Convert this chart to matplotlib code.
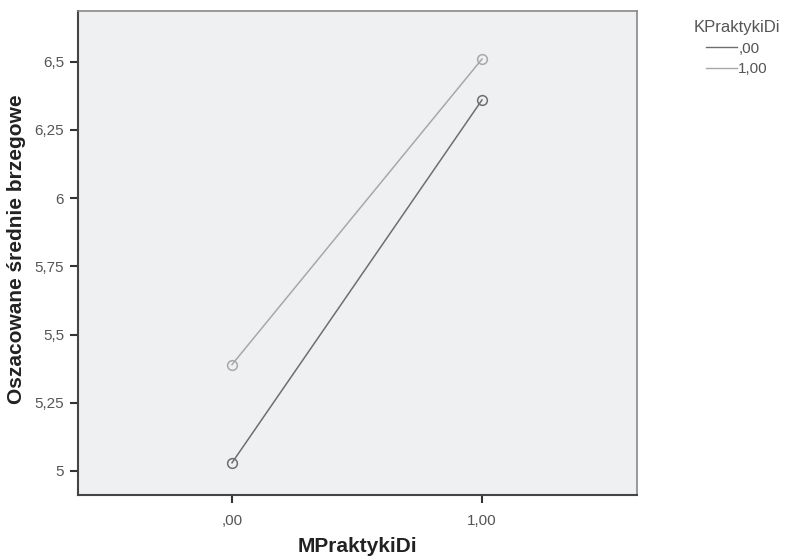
import matplotlib
matplotlib.use("Agg")
import matplotlib.pyplot as plt
from matplotlib.lines import Line2D

plt.rcParams['font.family'] = ['Liberation Sans', 'DejaVu Sans']

# dane
kategorie = [0.0, 1.0]
etykiety_x = [",00", "1,00"]
seria_00 = [5.03, 6.36]
seria_100 = [5.39, 6.51]
nazwy_serii = [",00", "1,00"]
ticki_y = [5, 5.25, 5.5, 5.75, 6, 6.25, 6.5]
etykiety_y = ["5", "5,25", "5,5", "5,75", "6", "6,25", "6,5"]

kolory = ["#6e6e6e", "#a8a8a8"]

fig = plt.figure(figsize=(7.89, 5.59), dpi=100)
ax = fig.add_axes([78 / 789, 1 - 495 / 559, (637 - 78) / 789, (495 - 11) / 559])
ax.set_facecolor("#eff0f2")

for dane, kol in zip([seria_00, seria_100], kolory):
    ax.plot(kategorie, dane, color=kol, lw=1.1, marker="o", markersize=7,
            markerfacecolor="none", markeredgecolor=kol, markeredgewidth=1.1)

ax.set_xlim(-0.616, 1.62)
ax.set_ylim(4.912, 6.686)
ax.set_xticks(kategorie)
ax.set_xticklabels(etykiety_x)
ax.set_yticks(ticki_y)
ax.set_yticklabels(etykiety_y)
ax.tick_params(colors="#333333", labelcolor="#555555", labelsize=11, length=6, width=1.5)
ax.tick_params(axis="x", pad=8)
ax.tick_params(axis="y", pad=4)

for s in ["left", "bottom"]:
    ax.spines[s].set_color("#444444")
    ax.spines[s].set_linewidth(1.5)
for s in ["top", "right"]:
    ax.spines[s].set_color("#888888")
    ax.spines[s].set_linewidth(1.2)

ax.set_xlabel("MPraktykiDi", fontsize=15, fontweight="bold", color="#222222")
ax.xaxis.set_label_coords((357 - 78) / (637 - 78), -(547 - 495) / (495 - 11))
ax.set_ylabel("Oszacowane średnie brzegowe", fontsize=15, fontweight="bold", color="#222222")
ax.yaxis.set_label_coords(-(78 - 17) / (637 - 78), (495 - 249) / (495 - 11))
ax.xaxis.label.set_va("center")
ax.yaxis.label.set_va("center")

uchwyty = [Line2D([0], [0], color=k, lw=1.0) for k in kolory]
leg = fig.legend(uchwyty, nazwy_serii, title="KPraktykiDi", loc="upper left",
                 bbox_to_anchor=(683 / 789, 1 - 9 / 559), frameon=False,
                 fontsize=11, title_fontsize=12, handlelength=2.0, handletextpad=0.1,
                 labelspacing=0.45, borderpad=0.2)
leg.get_title().set_color("#555555")
for t in leg.get_texts():
    t.set_color("#555555")

fig.savefig("out.png", dpi=100)
